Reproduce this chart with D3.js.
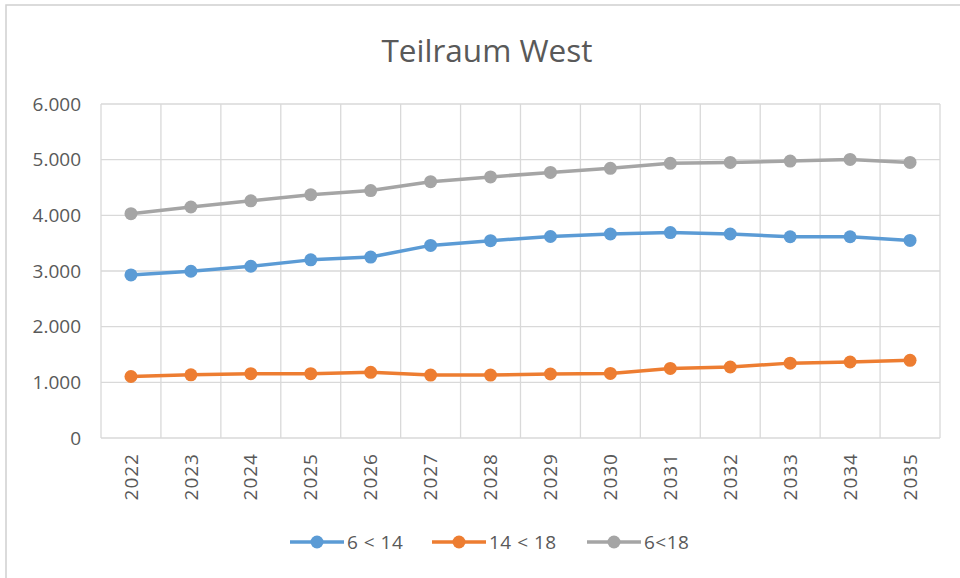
<!DOCTYPE html>
<html>
<head>
<meta charset="utf-8">
<script src="https://cdn.jsdelivr.net/npm/d3@7"></script>
<style>
  body { margin: 0; background: #fff; }
  svg text { font-family: "Open Sans", "Noto Sans", sans-serif; fill: #595959; }
</style>
</head>
<body>
<div id="chart"></div>
<script>
// Daten
var years = ["2022","2023","2024","2025","2026","2027","2028","2029","2030","2031","2032","2033","2034","2035"];
var s6bis14 = [2930, 2995, 3085, 3200, 3250, 3460, 3545, 3620, 3665, 3690, 3665, 3615, 3615, 3550];
var s14bis18 = [1105, 1135, 1155, 1155, 1180, 1130, 1130, 1150, 1160, 1250, 1275, 1345, 1365, 1395];
var s6bis18 = [4030, 4150, 4260, 4370, 4445, 4605, 4690, 4770, 4845, 4935, 4950, 4975, 5005, 4950];
var seriesNames = ["6 < 14", "14 < 18", "6<18"];
var yTicks = [0, 1000, 2000, 3000, 4000, 5000, 6000];

var series = [
    { name: seriesNames[0], values: s6bis14, color: "#5B9BD5" },
    { name: seriesNames[1], values: s14bis18, color: "#ED7D31" },
    { name: seriesNames[2], values: s6bis18, color: "#A5A5A5" }
];

var width = 960, height = 578;
var plotLeft = 101, plotRight = 940, plotTop = 104, plotBottom = 438;

var svg = d3.select("#chart").append("svg")
    .attr("width", width)
    .attr("height", height);

// Rahmen des Diagrammbereichs (rechts/unten abgeschnitten)
svg.append("rect")
    .attr("x", 6).attr("y", 5)
    .attr("width", width + 10).attr("height", height + 10)
    .attr("fill", "#fff")
    .attr("stroke", "#d0d0d0")
    .attr("stroke-width", 1.5);

// Titel
svg.append("text")
    .attr("x", 487).attr("y", 62)
    .attr("text-anchor", "middle")
    .style("font-size", "31.5px")
    .text("Teilraum West");

var x = d3.scaleBand().domain(years).range([plotLeft, plotRight]);
var y = d3.scaleLinear().domain([0, 6000]).range([plotBottom, plotTop]);

var fmt = function(v) { return d3.format(",")(v).replace(/,/g, "."); };

// horizontale Gitterlinien
svg.append("g").selectAll("line")
    .data(yTicks)
    .enter().append("line")
    .attr("x1", plotLeft).attr("x2", plotRight)
    .attr("y1", d => y(d)).attr("y2", d => y(d))
    .attr("stroke", "#d9d9d9").attr("stroke-width", 1.3);

// vertikale Gitterlinien (Kategoriegrenzen)
var bounds = years.map(d => x(d)).concat([plotRight]);
svg.append("g").selectAll("line")
    .data(bounds)
    .enter().append("line")
    .attr("x1", d => d).attr("x2", d => d)
    .attr("y1", plotTop).attr("y2", plotBottom)
    .attr("stroke", "#d9d9d9").attr("stroke-width", 1.3);

// Y-Achse Beschriftung
svg.append("g").selectAll("text")
    .data(yTicks)
    .enter().append("text")
    .attr("x", 81).attr("y", d => y(d))
    .attr("dy", "0.35em")
    .attr("text-anchor", "end")
    .style("font-size", "19px")
    .text(d => fmt(d));

// X-Achse Beschriftung (gedreht)
svg.append("g").selectAll("text")
    .data(years)
    .enter().append("text")
    .attr("transform", d => "translate(" + (x(d) + x.bandwidth() / 2) + ",453) rotate(-90)")
    .attr("dy", "0.35em")
    .attr("text-anchor", "end")
    .style("font-size", "19px")
    .style("letter-spacing", "1px")
    .text(d => d);

var line = d3.line()
    .x((d, i) => x(years[i]) + x.bandwidth() / 2)
    .y(d => y(d));

// Linien und Punkte
series.forEach(function(s) {
    svg.append("path")
        .datum(s.values)
        .attr("d", line)
        .attr("fill", "none")
        .attr("stroke", s.color)
        .attr("stroke-width", 3.5)
        .attr("stroke-linejoin", "round");
    svg.append("g").selectAll("circle")
        .data(s.values)
        .enter().append("circle")
        .attr("cx", (d, i) => x(years[i]) + x.bandwidth() / 2)
        .attr("cy", d => y(d))
        .attr("r", 6.5)
        .attr("fill", s.color);
});

// Legende
var legendX = [290, 432, 587];
var legend = svg.append("g").selectAll("g")
    .data(series)
    .enter().append("g")
    .attr("transform", (d, i) => "translate(" + legendX[i] + ",542)");
legend.append("line")
    .attr("x1", 0).attr("x2", 54)
    .attr("stroke", d => d.color).attr("stroke-width", 3.5);
legend.append("circle")
    .attr("cx", 27).attr("r", 6.5)
    .attr("fill", d => d.color);
legend.append("text")
    .attr("x", 57).attr("dy", "0.35em")
    .style("font-size", "19px")
    .style("letter-spacing", "0.5px")
    .text(d => d.name);
</script>
</body>
</html>
